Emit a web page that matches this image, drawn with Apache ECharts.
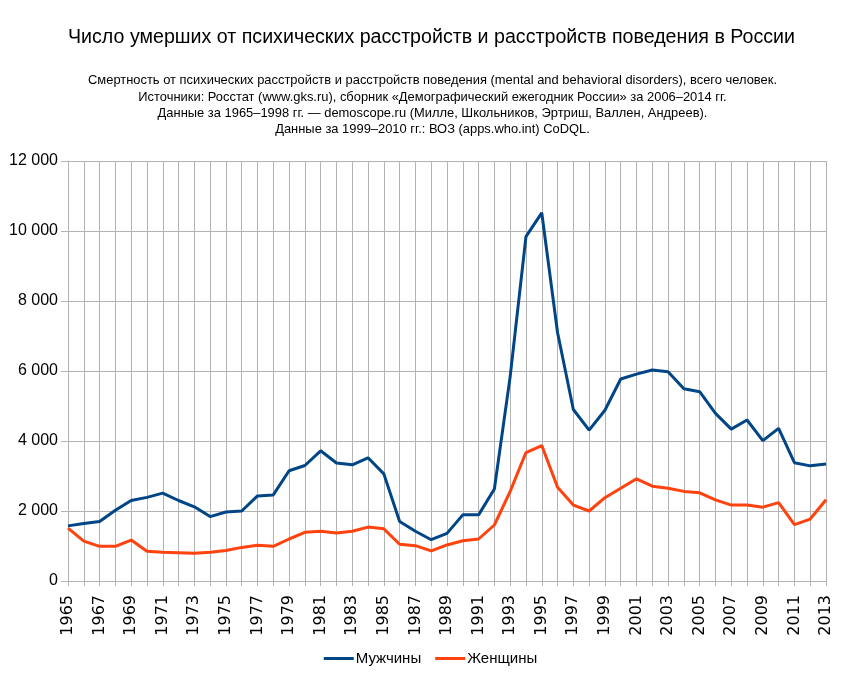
<!DOCTYPE html>
<html>
<head>
<meta charset="utf-8">
<script src="https://cdn.jsdelivr.net/npm/echarts@6/dist/echarts.min.js"></script>
<style>
html,body{margin:0;padding:0;background:#fff;}
#c{width:861px;height:681px;}
</style>
</head>
<body>
<div id="c"></div>
<script>
const years = [1965,1966,1967,1968,1969,1970,1971,1972,1973,1974,1975,1976,1977,1978,1979,1980,1981,1982,1983,1984,1985,1986,1987,1988,1989,1990,1991,1992,1993,1994,1995,1996,1997,1998,1999,2000,2001,2002,2003,2004,2005,2006,2007,2008,2009,2010,2011,2012,2013];
const men = [1575,1640,1700,2020,2300,2390,2510,2300,2120,1840,1970,2000,2430,2460,3150,3300,3720,3370,3320,3520,3060,1700,1420,1180,1360,1890,1890,2630,5840,9840,10520,7100,4900,4310,4880,5770,5910,6030,5980,5490,5410,4790,4340,4600,4010,4360,3380,3290,3340];
const women = [1510,1140,990,990,1170,850,820,810,790,820,870,960,1020,990,1200,1390,1420,1370,1420,1540,1490,1050,1010,860,1030,1150,1200,1600,2560,3670,3870,2680,2170,2000,2380,2650,2920,2710,2650,2560,2520,2320,2170,2170,2110,2240,1610,1770,2320];
const yTicks = {min:0, max:12000, interval:2000};
const titleText = 'Число умерших от психических расстройств и расстройств поведения в России';
const subLines = [
 'Смертность от психических расстройств и расстройств поведения (mental and behavioral disorders), всего человек.',
 'Источники: Росстат (www.gks.ru), сборник «Демографический ежегодник России» за 2006–2014 гг.',
 'Данные за 1965–1998 гг. — demoscope.ru (Милле, Школьников, Эртриш, Валлен, Андреев).',
 'Данные за 1999–2010 гг.: ВОЗ (apps.who.int) CoDQL.'
];
const seriesNames = ['Мужчины','Женщины'];

const sans = '"Liberation Sans",Arial,sans-serif';
const ctx = document.createElement('canvas').getContext('2d');
function fitScale(text, size, target){
  ctx.font = size + 'px ' + sans;
  const w = ctx.measureText(text).width;
  return w > 0 ? target / w : 1;
}
const titleSize = 20, subSize = 13.5;
const titleScale = fitScale(titleText, titleSize, 727);
const subScale = fitScale(subLines[0], subSize, 689);
const graphics = [{
  type:'text', x:431.5, y:37, scaleX:titleScale,
  style:{text:titleText, fontSize:titleSize, fontFamily:sans, fill:'#000', textAlign:'center', textVerticalAlign:'middle'}
}];
subLines.forEach((t,i)=>{
  graphics.push({type:'text', x:432.5, y:80.5 + i*16.3, scaleX:subScale,
    style:{text:t, fontSize:subSize, fontFamily:sans, fill:'#000', textAlign:'center', textVerticalAlign:'middle'}});
});

const chart = echarts.init(document.getElementById('c'), null, {renderer:'canvas'});
chart.setOption({
  animation:false,
  backgroundColor:'#fff',
  graphic:graphics,
  legend:{
    bottom:10, left:'center', itemWidth:30, itemHeight:3, itemGap:14,
    icon:'rect',
    textStyle:{fontFamily:sans, fontSize:15, color:'#000', padding:[0,0,0,-3]},
    data:seriesNames
  },
  grid:{left:68, right:35, top:161, bottom:100, containLabel:false},
  xAxis:{
    type:'category', data:years, boundaryGap:false,
    axisLine:{show:true, lineStyle:{color:'#b3b3b3', width:1}},
    axisTick:{show:true, interval:0, length:5, lineStyle:{color:'#b3b3b3'}},
    splitLine:{show:true, interval:0, lineStyle:{color:'#b3b3b3', width:1}},
    axisLabel:{interval:1, rotate:90, margin:14, fontFamily:'"DejaVu Sans",sans-serif', fontSize:16, color:'#000'}
  },
  yAxis:{
    type:'value', min:yTicks.min, max:yTicks.max, interval:yTicks.interval,
    axisLine:{show:true, lineStyle:{color:'#b3b3b3', width:1}},
    axisTick:{show:true, length:7, lineStyle:{color:'#b3b3b3'}},
    splitLine:{show:true, lineStyle:{color:'#b3b3b3', width:1}},
    axisLabel:{margin:10, fontFamily:sans, fontSize:16, color:'#000',
      formatter:v=>String(v).replace(/\B(?=(\d{3})+(?!\d))/g,' ')}
  },
  series:[
    {name:seriesNames[0], type:'line', data:men, symbol:'none', itemStyle:{color:'#004586'}, lineStyle:{color:'#004586', width:3}},
    {name:seriesNames[1], type:'line', data:women, symbol:'none', itemStyle:{color:'#ff420e'}, lineStyle:{color:'#ff420e', width:3}}
  ]
});
</script>
</body>
</html>
